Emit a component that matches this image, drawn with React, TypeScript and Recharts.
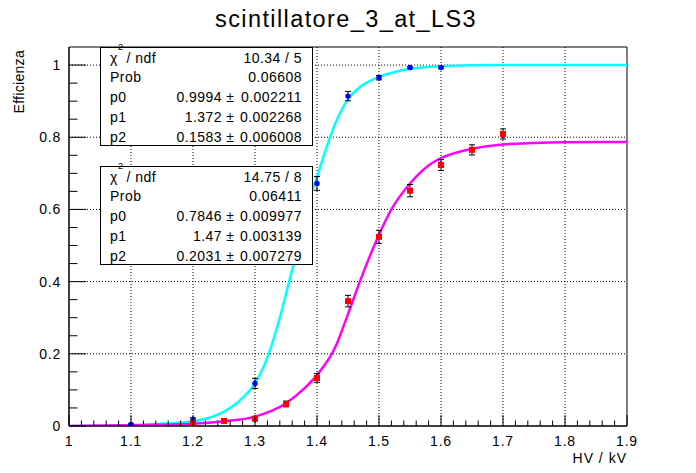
import { ComposedChart, Line, Scatter, XAxis, YAxis, CartesianGrid, ReferenceArea, ErrorBar } from "recharts";

// measured points (HV in kV, efficiency)
const hv1 = [1.1, 1.2, 1.3, 1.4, 1.45, 1.5, 1.55, 1.6];
const eff1 = [0.004, 0.017, 0.118, 0.672, 0.914, 0.965, 0.993, 0.993];
const err1 = [0.002, 0.006, 0.014, 0.019, 0.013, 0.006, 0.003, 0.003];

const hv2 = [1.2, 1.25, 1.3, 1.35, 1.4, 1.45, 1.5, 1.55, 1.6, 1.65, 1.7];
const eff2 = [0.008, 0.014, 0.02, 0.061, 0.133, 0.346, 0.524, 0.652, 0.723, 0.765, 0.809];
const err2 = [0.002, 0.003, 0.005, 0.008, 0.012, 0.016, 0.018, 0.017, 0.015, 0.014, 0.014];

// fit curves
const fit1X = [1.0, 1.1, 1.15, 1.2, 1.23, 1.25, 1.28, 1.3, 1.32, 1.34, 1.355, 1.372, 1.39, 1.4, 1.415, 1.43, 1.45, 1.47, 1.5, 1.53, 1.56, 1.6, 1.7, 1.8, 1.9];
const fit1Y = [0.0, 0.002, 0.006, 0.013, 0.025, 0.04, 0.078, 0.118, 0.19, 0.3, 0.4, 0.51, 0.64, 0.69, 0.77, 0.84, 0.905, 0.94, 0.967, 0.983, 0.992, 0.997, 1.0, 1.0, 1.0];

const fit2X = [1.0, 1.1, 1.2, 1.25, 1.3, 1.35, 1.38, 1.4, 1.43, 1.45, 1.47, 1.5, 1.52, 1.55, 1.58, 1.6, 1.65, 1.7, 1.75, 1.8, 1.9];
const fit2Y = [0.0, 0.002, 0.006, 0.013, 0.026, 0.063, 0.105, 0.141, 0.22, 0.31, 0.404, 0.53, 0.6, 0.672, 0.722, 0.742, 0.768, 0.78, 0.784, 0.786, 0.787];

// axes
const xMajor = [1, 1.1, 1.2, 1.3, 1.4, 1.5, 1.6, 1.7, 1.8, 1.9];
const yMajor = [0, 0.2, 0.4, 0.6, 0.8, 1];
const xTicks = Array.from({ length: 46 }, (_, i) => +(1 + i * 0.02).toFixed(2));
const yTicks = Array.from({ length: 21 }, (_, i) => +(i * 0.05).toFixed(2));

// stat boxes
const statLabels = ["/ ndf", "Prob", "p0", "p1", "p2"];
const fit1Values = ["10.34 / 5", "0.06608", "0.9994", "1.372", "0.1583"];
const fit1Errors = ["", "", "0.002211", "0.002268", "0.006008"];
const fit2Values = ["14.75 / 8", "0.06411", "0.7846", "1.47", "0.2031"];
const fit2Errors = ["", "", "0.009977", "0.003139", "0.007279"];

const FONT = "'Liberation Sans', Arial, sans-serif";

const pts1 = hv1.map((x, i) => ({ x, y: eff1[i], err: err1[i] }));
const pts2 = hv2.map((x, i) => ({ x, y: eff2[i], err: err2[i] }));
const curve1 = fit1X.map((x, i) => ({ x, y: fit1Y[i] }));
const curve2 = fit2X.map((x, i) => ({ x, y: fit2Y[i] }));

const near = (a: number, list: number[]) => list.some((b) => Math.abs(a - b) < 1e-6);

function XTick(props: any) {
  const { x, y, payload } = props;
  const major = near(payload.value, xMajor);
  return (
    <g>
      <line x1={x} x2={x} y1={y} y2={y - (major ? 11 : 5.5)} stroke="#000" />
      {major && (
        <text x={x} y={y + 20} textAnchor="middle" fontFamily={FONT} fontSize={14} letterSpacing={0.8} fill="#000">
          {String(payload.value)}
        </text>
      )}
    </g>
  );
}

function YTick(props: any) {
  const { x, y, payload } = props;
  const major = near(payload.value, yMajor);
  return (
    <g>
      <line x1={x} x2={x + (major ? 17 : 8.5)} y1={y} y2={y} stroke="#000" />
      {major && (
        <text x={x - 8} y={y + 5} textAnchor="end" fontFamily={FONT} fontSize={14} letterSpacing={0.8} fill="#000">
          {String(payload.value)}
        </text>
      )}
    </g>
  );
}

const rowOffsets = [15.5, 34.7, 55.4, 75.3, 94.5];

function StatBox({ top, values, errors }: { top: number; values: string[]; errors: string[] }) {
  const left = 100;
  const right = 313;
  return (
    <g fontFamily={FONT} fontSize={14} fill="#000">
      <rect x={left + 0.5} y={top + 0.5} width={right - left - 1} height={98} fill="#fff" stroke="#000" />
      <text x={110} y={top + rowOffsets[0]}>χ</text>
      <text x={118} y={top + 3} fontSize={9}>2</text>
      <text x={126.5} y={top + rowOffsets[0]} letterSpacing={0.45}>{statLabels[0]}</text>
      {statLabels.slice(1).map((l, k) => (
        <text key={l} x={110} y={top + rowOffsets[k + 1]} letterSpacing={0.45}>{l}</text>
      ))}
      {values.map((v, k) =>
        errors[k] === "" ? (
          <text key={k} x={302} y={top + rowOffsets[k]} textAnchor="end" letterSpacing={0.45}>{v}</text>
        ) : (
          <g key={k}>
            <text x={234.5} y={top + rowOffsets[k]} textAnchor="end" letterSpacing={0.45}>{v + " ±"}</text>
            <text x={302} y={top + rowOffsets[k]} textAnchor="end" letterSpacing={0.45}>{errors[k]}</text>
          </g>
        )
      )}
    </g>
  );
}

export default function App() {
  return (
    <div style={{ position: "absolute", left: 0, top: 0, width: 696, height: 473, background: "#fff" }}>
      <ComposedChart width={696} height={473} margin={{ top: 47, right: 69, bottom: 0, left: 0 }}>
        <CartesianGrid
          stroke="#000"
          strokeDasharray="1 2"
          verticalValues={[1.1, 1.2, 1.3, 1.4, 1.5, 1.6, 1.7, 1.8]}
          horizontalValues={[0.2, 0.4, 0.6, 0.8, 1.0]}
        />
        <XAxis
          type="number"
          dataKey="x"
          domain={[1, 1.9]}
          allowDataOverflow
          ticks={xTicks}
          interval={0}
          tickSize={0}
          tickMargin={0}
          tickLine={false}
          axisLine={{ stroke: "#000" }}
          height={47}
          tick={(p: any) => <XTick {...p} />}
        />
        <YAxis
          type="number"
          domain={[0, 1.05]}
          allowDataOverflow
          ticks={yTicks}
          interval={0}
          tickSize={0}
          tickMargin={0}
          tickLine={false}
          axisLine={{ stroke: "#000" }}
          width={69}
          tick={(p: any) => <YTick {...p} />}
        />
        <ReferenceArea x1={1} x2={1.9} y1={0} y2={1.05} fill="none" stroke="#000" strokeWidth={1} />
        <Line data={curve1} dataKey="y" type="monotone" stroke="#00ffff" strokeWidth={2.5} dot={false} isAnimationActive={false} />
        <Line data={curve2} dataKey="y" type="monotone" stroke="#ff00ff" strokeWidth={2.5} dot={false} isAnimationActive={false} />
        <Scatter
          data={pts1}
          dataKey="y"
          isAnimationActive={false}
          shape={(p: any) => <circle cx={p.cx} cy={p.cy} r={2.7} fill="#0000ff" />}
        >
          <ErrorBar dataKey="err" direction="y" width={3} stroke="#000" strokeWidth={1} />
        </Scatter>
        <Scatter
          data={pts2}
          dataKey="y"
          isAnimationActive={false}
          shape={(p: any) => <rect x={p.cx - 3} y={p.cy - 3} width={6} height={6} fill="#ff0000" />}
        >
          <ErrorBar dataKey="err" direction="y" width={3} stroke="#000" strokeWidth={1} />
        </Scatter>
      </ComposedChart>
      <svg width={696} height={473} style={{ position: "absolute", left: 0, top: 0, pointerEvents: "none" }}>
        <text x={215} y={26.5} fontFamily={FONT} fontSize={23.5} letterSpacing={1.4} fill="#000">
          scintillatore_3_at_LS3
        </text>
        <text x={627} y={463} textAnchor="end" fontFamily={FONT} fontSize={14} letterSpacing={1} fill="#000">
          HV / kV
        </text>
        <text x={24} y={50} transform="rotate(-90 24 50)" textAnchor="end" fontFamily={FONT} fontSize={14} letterSpacing={0.3} fill="#000">
          Efficienza
        </text>
        <StatBox top={47} values={fit1Values} errors={fit1Errors} />
        <StatBox top={166} values={fit2Values} errors={fit2Errors} />
      </svg>
    </div>
  );
}
